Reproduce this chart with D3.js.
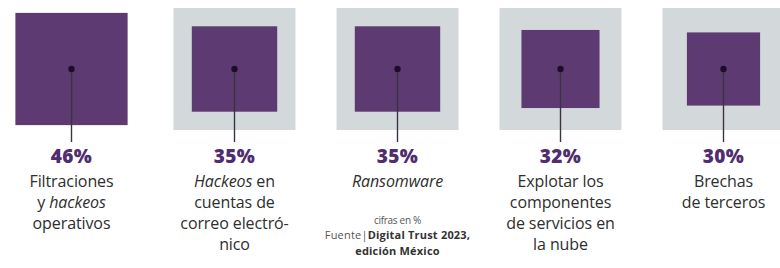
<!DOCTYPE html>
<html>
<head>
<meta charset="utf-8">
<script src="https://cdn.jsdelivr.net/npm/d3@7"></script>
<style>
  body { margin: 0; background: #fff; }
  svg { display: block; font-family: "Open Sans", "Lato", sans-serif; }
</style>
</head>
<body>
<div id="my_dataviz"></div>
<script>
// data
const categories = ["filtraciones", "hackeos", "ransomware", "nube", "terceros"]
const values = [46, 35, 35, 32, 30]
const percentLabels = ["46%", "35%", "35%", "32%", "30%"]
// each label line: array of [text, italic] pieces
const labelLines = [
    [[["Filtraciones", false]], [["y ", false], ["hackeos", true]], [["operativos", false]]],
    [[["Hackeos", true], [" en", false]], [["cuentas de", false]], [["correo electró-", false]], [["nico", false]]],
    [[["Ransomware", true]]],
    [[["Explotar los", false]], [["componentes", false]], [["de servicios en", false]], [["la nube", false]]],
    [[["Brechas", false]], [["de terceros", false]]]
]
const refValue = 50
const noteLines = ["cifras en %"]

const width = 780, height = 268

const svg = d3.select("#my_dataviz")
    .append("svg")
    .attr("width", width)
    .attr("height", height)

const data = categories.map((c, i) => ({
    k: c, v: values[i], pct: percentLabels[i], lines: labelLines[i]
}))

// centres of each card
const xScale = d3.scalePoint()
    .domain(categories)
    .range([71.5, 723.5])

// side of square is linear with the value
const side = d3.scaleLinear()
    .domain([0, refValue])
    .range([0, 122])

const cy = 69
const maxV = d3.max(values)

const card = svg.selectAll("g.card")
    .data(data)
    .enter()
    .append("g")
    .attr("class", "card")
    .attr("transform", d => `translate(${xScale(d.k)},0)`)

// grey reference square (hidden behind the largest one)
card.filter(d => d.v < maxV)
    .append("rect")
    .attr("x", -side(refValue) / 2)
    .attr("y", cy - side(refValue) / 2)
    .attr("width", side(refValue))
    .attr("height", side(refValue))
    .attr("fill", "#d3d8da")

card.append("rect")
    .attr("x", d => -side(d.v) / 2)
    .attr("y", d => cy - side(d.v) / 2)
    .attr("width", d => side(d.v))
    .attr("height", d => side(d.v))
    .attr("fill", "#5e3a73")

card.append("line")
    .attr("x1", 0).attr("x2", 0)
    .attr("y1", cy).attr("y2", 142)
    .attr("stroke", "#3a3340")
    .attr("stroke-width", 1.4)

card.append("circle")
    .attr("cx", 0).attr("cy", cy)
    .attr("r", 3.2)
    .attr("fill", "#1c0e28")

card.append("text")
    .attr("y", 163)
    .attr("text-anchor", "middle")
    .attr("font-size", 19)
    .attr("font-weight", 800)
    .attr("letter-spacing", 0.4)
    .attr("fill", "#4f2d6e")
    .text(d => d.pct)

card.each(function (d) {
    const g = d3.select(this)
    d.lines.forEach((parts, j) => {
        const t = g.append("text")
            .attr("y", 187 + j * 21)
            .attr("text-anchor", "middle")
            .attr("font-size", 16)
            .attr("letter-spacing", -0.1)
            .attr("fill", "#2e2e2e")
        parts.forEach(p => {
            t.append("tspan")
                .attr("font-style", p[1] ? "italic" : "normal")
                .text(p[0])
        })
    })
})

// source note
const nx = xScale("ransomware")
svg.append("text")
    .attr("x", nx).attr("y", 224)
    .attr("text-anchor", "middle")
    .attr("font-size", 10)
    .attr("letter-spacing", -0.3)
    .attr("fill", "#555")
    .text(noteLines[0])

const src = svg.append("text")
    .attr("x", nx).attr("y", 239)
    .attr("text-anchor", "middle")
    .attr("font-size", 11)
    .attr("letter-spacing", 0.2)
    .attr("fill", "#333")
src.append("tspan").attr("fill", "#555").text("Fuente|")
src.append("tspan").attr("font-weight", 700).text("Digital Trust 2023,")

svg.append("text")
    .attr("x", nx).attr("y", 254.5)
    .attr("text-anchor", "middle")
    .attr("font-size", 11)
    .attr("font-weight", 700)
    .attr("letter-spacing", 0.2)
    .attr("fill", "#333")
    .text("edición México")
</script>
</body>
</html>
